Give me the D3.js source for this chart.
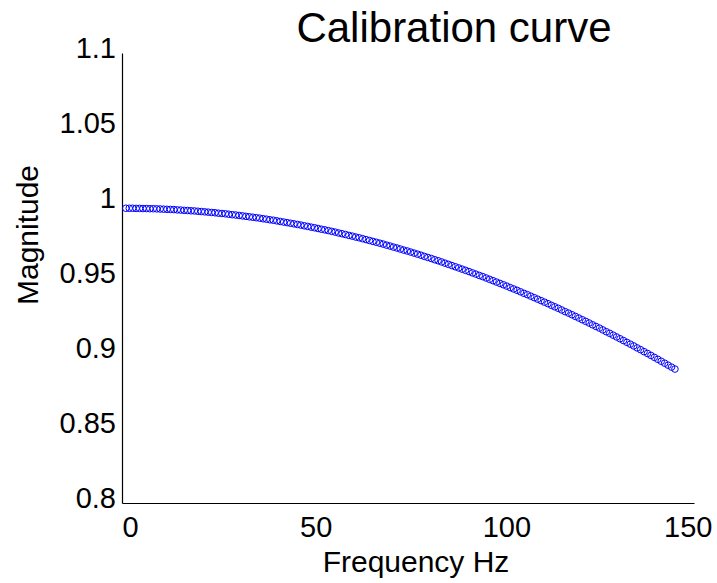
<!DOCTYPE html>
<html><head><meta charset="utf-8">
<script src="https://cdn.jsdelivr.net/npm/d3@7"></script>
<style>body{margin:0;background:#fff}text{font-family:"Liberation Sans",Arial,sans-serif;fill:#000}</style>
</head><body><svg id="c" width="717" height="583"></svg>
<script>
const title = "Calibration curve";
const xLabel = "Frequency Hz";
const yLabel = "Magnitude";
const xTicks = [0, 50, 100, 150];
const yTicks = [0.8, 0.85, 0.9, 0.95, 1, 1.05, 1.1];
const freq = [1.0,1.9,2.8,3.7,4.6,5.5,6.4,7.3,8.2,9.1,10.0,10.9,11.8,12.7,13.6,14.5,15.4,16.3,17.2,18.1,19.0,19.9,20.8,21.7,22.6,23.5,24.4,25.3,26.2,27.1,28.0,28.9,29.8,30.7,31.6,32.5,33.4,34.3,35.2,36.1,37.0,37.9,38.8,39.7,40.6,41.5,42.4,43.3,44.2,45.1,46.0,46.9,47.8,48.7,49.6,50.5,51.4,52.3,53.2,54.1,55.0,55.9,56.8,57.7,58.6,59.5,60.4,61.3,62.2,63.1,64.0,64.9,65.8,66.7,67.6,68.5,69.4,70.3,71.2,72.1,73.0,73.9,74.8,75.7,76.6,77.5,78.4,79.3,80.2,81.1,82.0,82.9,83.8,84.7,85.6,86.5,87.4,88.3,89.2,90.1,91.0,91.9,92.8,93.7,94.6,95.5,96.4,97.3,98.2,99.1,100.0,100.9,101.8,102.7,103.6,104.5,105.4,106.3,107.2,108.1,109.0,109.9,110.8,111.7,112.6,113.5,114.4,115.3,116.2,117.1,118.0,118.9,119.8,120.7,121.6,122.5,123.4,124.3,125.2,126.1,127.0,127.9,128.8,129.7,130.6,131.5,132.4,133.3,134.2,135.1,136.0,136.9,137.8,138.7,139.6,140.5,141.4,142.3,143.2,144.1,145.0];
const magnitude = [0.9965,0.9965,0.9965,0.9964,0.9964,0.9963,0.9963,0.9962,0.9962,0.9961,0.9960,0.9959,0.9958,0.9957,0.9956,0.9954,0.9953,0.9951,0.9950,0.9948,0.9947,0.9945,0.9943,0.9941,0.9939,0.9937,0.9935,0.9932,0.9930,0.9928,0.9925,0.9922,0.9920,0.9917,0.9914,0.9911,0.9908,0.9905,0.9902,0.9899,0.9895,0.9892,0.9888,0.9885,0.9881,0.9877,0.9873,0.9869,0.9865,0.9861,0.9857,0.9853,0.9848,0.9844,0.9839,0.9835,0.9830,0.9825,0.9821,0.9816,0.9811,0.9806,0.9800,0.9795,0.9790,0.9784,0.9779,0.9773,0.9768,0.9762,0.9756,0.9750,0.9744,0.9738,0.9732,0.9726,0.9719,0.9713,0.9706,0.9700,0.9693,0.9686,0.9680,0.9673,0.9666,0.9659,0.9652,0.9644,0.9637,0.9630,0.9622,0.9615,0.9607,0.9599,0.9591,0.9583,0.9575,0.9567,0.9559,0.9551,0.9543,0.9534,0.9526,0.9517,0.9509,0.9500,0.9491,0.9482,0.9473,0.9464,0.9455,0.9446,0.9436,0.9427,0.9418,0.9408,0.9398,0.9389,0.9379,0.9369,0.9359,0.9349,0.9339,0.9329,0.9318,0.9308,0.9298,0.9287,0.9276,0.9266,0.9255,0.9244,0.9233,0.9222,0.9211,0.9200,0.9188,0.9177,0.9166,0.9154,0.9142,0.9131,0.9119,0.9107,0.9095,0.9083,0.9071,0.9059,0.9047,0.9034,0.9022,0.9009,0.8997,0.8984,0.8971,0.8958,0.8945,0.8932,0.8919,0.8906,0.8893];
const data = freq.map((f, i) => ({f, m: magnitude[i]}));

const svg = d3.select("#c");
const L = 122, R = 694, T = 53, B = 503;
const x = d3.scaleLinear().domain([0, 150]).range([L, R]);
const y = d3.scaleLinear().domain([0.8, 1.1]).range([B, T]);

const xAxis = svg.append("g").attr("transform", `translate(0,${B})`)
  .call(d3.axisBottom(x).tickValues(xTicks).tickSize(0).tickPadding(13).tickFormat(d3.format("")));
const yAxis = svg.append("g").attr("transform", `translate(${L},0)`)
  .call(d3.axisLeft(y).tickValues(yTicks).tickSize(0).tickPadding(6).tickFormat(d => String(d)));
[xAxis, yAxis].forEach(g => {
  g.select(".domain").attr("stroke", "#000").attr("stroke-width", 1.2);
  g.selectAll("text").attr("font-size", 29).attr("font-family", "Liberation Sans, Arial, sans-serif").attr("fill", "#000");
});
yAxis.selectAll("text").attr("dy", "0.15em");
xAxis.selectAll(".tick text").each(function(d, i, n) {
  const t = d3.select(this);
  if (i === 0) t.attr("text-anchor", "start");
  else if (i === n.length - 1) t.attr("text-anchor", "end").attr("dx", 18);
  else t.attr("dx", 3);
});

svg.append("g").selectAll("circle").data(data).join("circle")
  .attr("cx", d => x(d.f)).attr("cy", d => y(d.m)).attr("r", 3.3)
  .attr("fill", "none").attr("stroke", "#0000ff").attr("stroke-width", 1);

svg.append("text").attr("x", 454).attr("y", 42).attr("text-anchor", "middle")
  .attr("font-size", 42).text(title);
svg.append("text").attr("x", 416).attr("y", 572).attr("text-anchor", "middle")
  .attr("font-size", 30).text(xLabel);
svg.append("text").attr("transform", "translate(38,235) rotate(-90)").attr("text-anchor", "middle")
  .attr("font-size", 30).text(yLabel);
</script></body></html>
